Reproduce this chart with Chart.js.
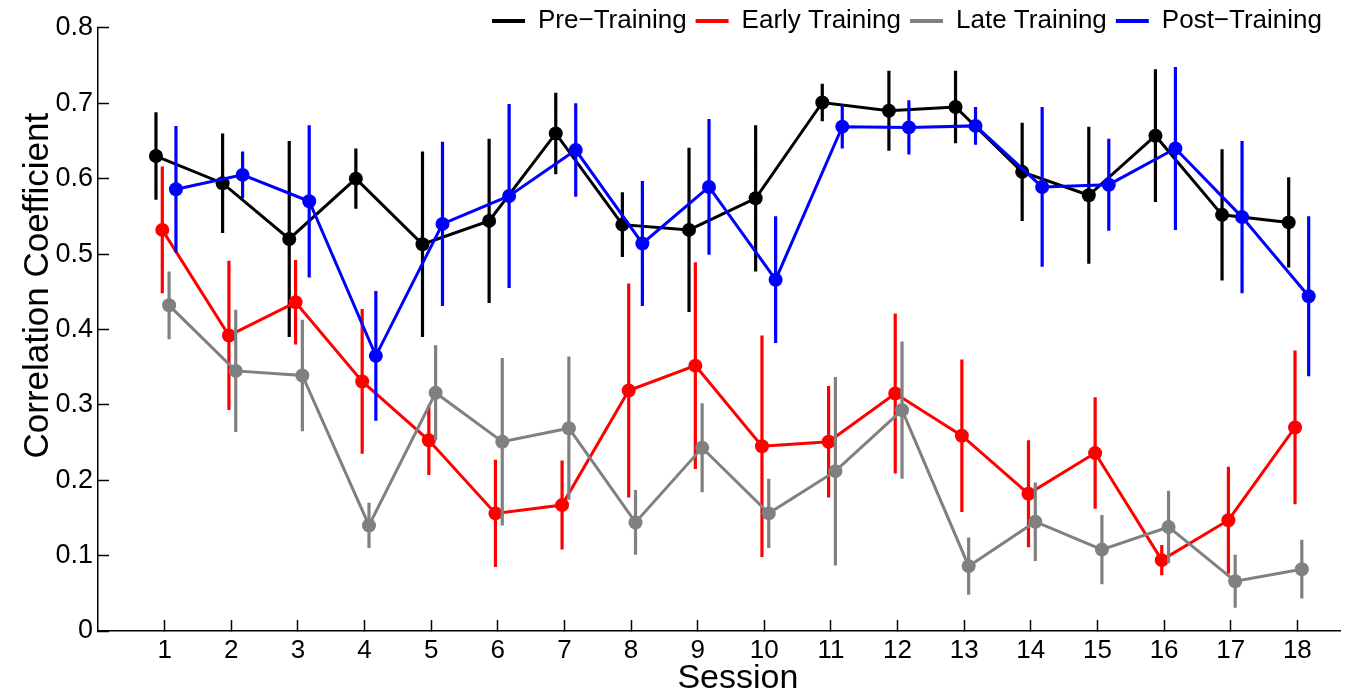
<!DOCTYPE html>
<html>
<head>
<meta charset="utf-8">
<script src="https://cdn.jsdelivr.net/npm/chart.js@4.4.1/dist/chart.umd.min.js"></script>
<style>
  html, body { margin: 0; padding: 0; background: #ffffff; }
  #wrap { width: 1347px; height: 696px; position: relative; }
</style>
</head>
<body>
<div id="wrap"><canvas id="c" width="1347" height="696"></canvas></div>
<script>
// ---- data ----
const sessions = [1,2,3,4,5,6,7,8,9,10,11,12,13,14,15,16,17,18];
const seriesNames = ['Pre\u2212Training', 'Early Training', 'Late Training', 'Post\u2212Training'];

const preMean  = [0.630,0.594,0.520,0.600,0.513,0.544,0.660,0.539,0.532,0.574,0.701,0.690,0.695,0.609,0.578,0.657,0.552,0.542];
const preErr   = [0.058,0.066,0.130,0.040,0.123,0.109,0.054,0.043,0.109,0.097,0.025,0.053,0.048,0.065,0.091,0.088,0.087,0.060];

const earlyMean = [0.532,0.392,0.436,0.331,0.253,0.156,0.167,0.319,0.352,0.245,0.251,0.315,0.259,0.182,0.236,0.094,0.147,0.270];
const earlyErr  = [0.084,0.099,0.056,0.096,0.046,0.071,0.059,0.142,0.137,0.147,0.074,0.106,0.101,0.071,0.074,0.020,0.071,0.102];

const lateMean = [0.432,0.345,0.339,0.140,0.316,0.251,0.269,0.144,0.243,0.156,0.212,0.293,0.086,0.145,0.108,0.138,0.066,0.082];
const lateErr  = [0.045,0.081,0.074,0.030,0.063,0.111,0.095,0.043,0.059,0.046,0.125,0.091,0.038,0.052,0.046,0.048,0.035,0.039];

const postMean = [0.586,0.605,0.570,0.365,0.540,0.577,0.638,0.514,0.589,0.466,0.669,0.668,0.670,0.589,0.592,0.640,0.549,0.444];
const postErr  = [0.084,0.031,0.101,0.086,0.109,0.122,0.062,0.083,0.090,0.084,0.029,0.036,0.025,0.106,0.061,0.108,0.101,0.106];

const yTickValues = [0,0.1,0.2,0.3,0.4,0.5,0.6,0.7,0.8];
const xTitle = 'Session';
const yTitle = 'Correlation Coefficient';
// ---- end data ----

const colors = ['#000000', '#ff0000', '#808080', '#0000ff'];
const offsets = [-0.13, -0.035, 0.067, 0.17];
const means = [preMean, earlyMean, lateMean, postMean];
const errs = [preErr, earlyErr, lateErr, postErr];

const FONT = "'Liberation Sans', Arial, Helvetica, sans-serif";
const NB = '\u00a0';

const datasets = [];
means.forEach((m, k) => {
  const errData = [];
  sessions.forEach((s, i) => {
    const x = s + offsets[k];
    errData.push({x: x, y: m[i] - errs[k][i]});
    errData.push({x: x, y: m[i] + errs[k][i]});
    errData.push({x: x, y: null});
  });
  datasets.push({
    label: seriesNames[k] + ' error',
    data: errData,
    borderColor: colors[k],
    backgroundColor: colors[k],
    borderWidth: 3.2,
    pointRadius: 0,
    spanGaps: false,
    order: 8 - 2 * k
  });
  datasets.push({
    label: seriesNames[k],
    data: sessions.map((s, i) => ({x: s + offsets[k], y: m[i]})),
    borderColor: colors[k],
    backgroundColor: colors[k],
    borderWidth: 3,
    pointRadius: 7,
    pointBorderWidth: 0,
    pointBackgroundColor: colors[k],
    order: 7 - 2 * k
  });
});

// Let the legend overlap the top of the plot (as in the original figure)
const legendOverlay = {
  id: 'legendOverlay',
  afterLayout(chart) {
    const lg = chart.legend;
    if (!lg) return;
    lg.top = -1;
    lg.bottom = 48;
    lg.height = 49;
    lg.left -= 10;
    lg.right -= 10;
  }
};

new Chart(document.getElementById('c'), {
  type: 'line',
  data: { datasets: datasets },
  plugins: [legendOverlay],
  options: {
    responsive: false,
    animation: false,
    devicePixelRatio: 1,
    layout: { padding: { left: 0, right: 6, top: 0, bottom: 0 } },
    plugins: {
      tooltip: { enabled: false },
      legend: {
        display: true,
        position: 'top',
        align: 'end',
        maxHeight: 20,
        labels: {
          boxWidth: 33,
          boxHeight: 4,
          padding: 9,
          color: '#000',
          font: { family: FONT, size: 26 },
          generateLabels: function(chart) {
            return seriesNames.map((n, k) => ({
              text: n,
              fillStyle: colors[k],
              strokeStyle: colors[k],
              lineWidth: 0,
              hidden: false,
              datasetIndex: 2 * k + 1,
              fontColor: '#000'
            }));
          }
        }
      }
    },
    scales: {
      x: {
        type: 'linear',
        min: 0,
        max: 18.64,
        afterBuildTicks: function(scale) {
          scale.ticks = sessions.map(v => ({value: v}));
        },
        afterFit: function(scale) { scale.height = 65; },
        ticks: {
          includeBounds: false,
          color: '#000',
          font: { family: FONT, size: 26 },
          padding: 15,
          maxRotation: 0,
          autoSkip: false,
          callback: v => String(v)
        },
        grid: {
          drawOnChartArea: false,
          drawTicks: true,
          tickLength: -11,
          tickWidth: 1.5,
          color: '#000'
        },
        border: { display: true, color: '#000', width: 1.5 },
        title: {
          display: true,
          text: NB.repeat(4) + xTitle,
          color: '#000',
          font: { family: FONT, size: 34, lineHeight: 1 },
          padding: { top: 0, bottom: 0 }
        }
      },
      y: {
        type: 'linear',
        min: 0,
        max: 0.8,
        afterBuildTicks: function(scale) {
          scale.ticks = yTickValues.map(v => ({value: v}));
        },
        afterFit: function(scale) { scale.width = 98; },
        ticks: {
          color: '#000',
          font: { family: FONT, size: 27, lineHeight: 0.88 },
          padding: 16,
          callback: v => (v === 0 ? '0' : v.toFixed(1))
        },
        grid: {
          drawOnChartArea: false,
          drawTicks: true,
          tickLength: -11,
          tickWidth: 1.5,
          color: '#000'
        },
        border: { display: true, color: '#000', width: 1.5 },
        title: {
          display: true,
          text: NB.repeat(9) + yTitle,
          color: '#000',
          font: { family: FONT, size: 35, lineHeight: 1 },
          padding: { top: 21, bottom: 0 }
        }
      }
    }
  }
});
</script>
</body>
</html>
